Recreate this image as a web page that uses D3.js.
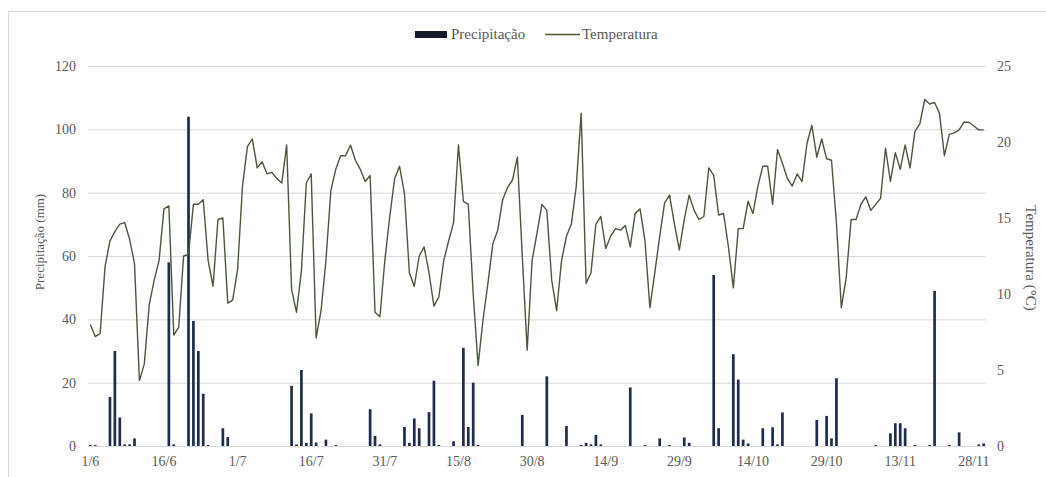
<!DOCTYPE html>
<html><head><meta charset="utf-8">
<script src="https://cdn.jsdelivr.net/npm/d3@7"></script>
<style>body{margin:0;background:#fff}svg{display:block}svg text{font-family:"Liberation Serif","Times New Roman",Times,serif !important;fill:#595959}</style>
</head><body>
<svg id="c" width="1046" height="477"></svg>
<script>
const dayCount = 183;
const tickLabels = ["1/6","16/6","1/7","16/7","31/7","15/8","30/8","14/9","29/9","14/10","29/10","13/11","28/11"];
const tickIndex = [0,15,30,45,60,75,90,105,120,135,150,165,180];
const precipTicks = [0,20,40,60,80,100,120];
const tempTicks = [0,5,10,15,20,25];

const precipitacao = [
0.3,0.3,0,0,15.5,30,9,0.5,0.5,2.4,
0,0,0,0,0,0,58,0.5,0,0,
104,39.5,30,16.5,0.3,0,0,5.6,2.8,0,
0,0,0,0,0,0,0,0,0,0,
0,19,0.5,24,1,10.3,1.1,0,2,0,
0.3,0,0,0,0,0,0,11.6,3.2,0.5,
0,0,0,0,6,1,8.7,5.6,0,10.7,
20.6,0.3,0,0,1.5,0,31,6,20,0.3,
0,0,0,0,0,0,0,0,9.8,0,
0,0,0,22,0,0,0,6.3,0,0,
0.3,1,0.5,3.5,0.5,0,0,0,0,0,
18.5,0,0,0.3,0,0,2.4,0,0.3,0,
0,2.7,1,0,0,0,0,54,5.6,0,
0,29,21,2,0.8,0,0,5.6,0,5.9,
0.5,10.6,0,0,0,0,0,0,8.2,0,
9.5,2.4,21.4,0,0,0,0,0,0,0,
0.3,0,0,4,7.2,7.2,5.6,0,0.3,0,
0,0.3,49,0,0,0.3,0,4.3,0,0,
0,0.5,0.8];

const temperatura = [
8.0,7.2,7.4,11.8,13.5,14.1,14.6,14.7,13.6,12.0,
4.3,5.4,9.3,10.9,12.2,15.6,15.8,7.3,7.8,12.5,
12.6,15.9,15.9,16.2,12.2,10.5,14.9,15.0,9.4,9.6,
11.6,17.1,19.7,20.2,18.3,18.7,17.9,18.0,17.6,17.3,
19.8,10.3,8.8,11.5,17.3,17.9,7.1,8.9,12.2,16.8,
18.2,19.1,19.1,19.8,18.8,18.2,17.4,17.8,8.8,8.5,
12.2,15.1,17.6,18.4,16.6,11.4,10.5,12.5,13.1,11.4,
9.2,9.8,12.2,13.5,14.7,19.8,16.1,15.9,10.0,5.3,
8.3,10.7,13.3,14.2,16.2,17.0,17.5,19.0,12.5,6.3,
12.2,14.0,15.9,15.5,10.9,8.9,12.2,13.8,14.6,17.1,
21.9,10.7,11.4,14.6,15.1,13.0,13.8,14.3,14.2,14.5,
13.1,15.3,15.6,13.5,9.1,11.4,13.8,16.0,16.5,14.6,
12.9,14.9,16.5,15.5,14.9,15.1,18.3,17.8,15.2,15.3,
13.1,10.4,14.3,14.3,16.1,15.3,17.1,18.4,18.4,15.9,
19.5,18.6,17.6,17.1,17.9,17.4,19.9,21.1,19.0,20.2,
18.9,18.8,14.7,9.1,11.1,14.9,14.9,15.9,16.4,15.5,
15.9,16.3,19.6,17.4,19.3,18.2,19.8,18.3,20.7,21.2,
22.8,22.5,22.6,21.9,19.1,20.5,20.6,20.8,21.3,21.3,
21.05,20.8,20.8];

const svg = d3.select("#c");
const L = 88, R = 986, T = 66, B = 446;

svg.append("rect").attr("x",8.5).attr("y",11.5).attr("width",1100).attr("height",600)
  .attr("fill","none").attr("stroke","#d9d9d9");

const idx = d3.range(dayCount);
const x = d3.scaleBand().domain(idx).range([L, R]).paddingInner(0.45).paddingOuter(0.2);
const yP = d3.scaleLinear().domain([0,120]).range([B, T]);
const yT = d3.scaleLinear().domain([0,25]).range([B, T]);

svg.append("g").selectAll("line").data(precipTicks).join("line")
  .attr("x1",L).attr("x2",R).attr("y1",d=>yP(d)+0.5).attr("y2",d=>yP(d)+0.5)
  .attr("stroke","#d9d9d9").attr("stroke-width",1);

const gl = svg.append("g").attr("transform",`translate(${L-12},0)`)
  .call(d3.axisLeft(yP).tickValues(precipTicks).tickSize(0).tickPadding(0));
gl.select(".domain").remove();
gl.attr("font-family",null).attr("font-size",14);

const gr = svg.append("g").attr("transform",`translate(${R+11},0)`)
  .call(d3.axisRight(yT).tickValues(tempTicks).tickSize(0).tickPadding(0));
gr.select(".domain").remove();
gr.attr("font-family",null).attr("font-size",14);

const gx = svg.append("g").attr("transform",`translate(0,${B+10})`)
  .call(d3.axisBottom(x).tickValues(tickIndex).tickFormat((d,i)=>tickLabels[i]).tickSize(0).tickPadding(0));
gx.select(".domain").remove();
gx.attr("font-family",null).attr("font-size",14);

const bw = x.bandwidth();
svg.append("g").selectAll("rect").data(idx.filter(i=>precipitacao[i]>0)).join("rect")
  .attr("x",i=>x(i)).attr("width",bw)
  .attr("y",i=>yP(precipitacao[i])).attr("height",i=>B-yP(precipitacao[i]))
  .attr("fill","#1f2d4d");

const line = d3.line().x(i=>x(i)+bw/2).y(i=>yT(temperatura[i]));
svg.append("path").datum(idx).attr("d",line).attr("fill","none")
  .attr("stroke","#4a573d").attr("stroke-width",1.4).attr("stroke-linejoin","round");

svg.append("text").attr("transform","translate(44,242) rotate(-90)").attr("text-anchor","middle")
  .attr("font-size",13).text("Precipitação (mm)");
svg.append("text").attr("transform","translate(1026,258) rotate(90)").attr("text-anchor","middle")
  .attr("font-size",15).text("Temperatura (°C)");

const lg = svg.append("g");
lg.append("rect").attr("x",415).attr("y",31).attr("width",32).attr("height",7).attr("fill","#141a2a");
lg.append("text").attr("x",451).attr("y",39).attr("font-size",15).text("Precipitação");
lg.append("line").attr("x1",545).attr("x2",580).attr("y1",34.5).attr("y2",34.5).attr("stroke","#4a573d").attr("stroke-width",1.4);
lg.append("text").attr("x",582).attr("y",39).attr("font-size",15).text("Temperatura");
</script>
</body></html>
